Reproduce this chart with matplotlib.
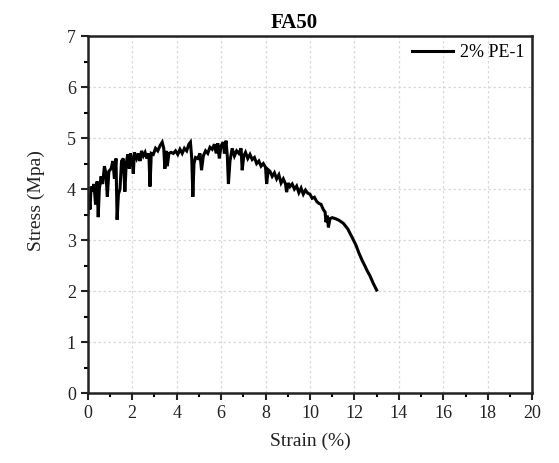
import matplotlib
matplotlib.use("Agg")
import matplotlib.pyplot as plt
from matplotlib.ticker import MultipleLocator

strain = [0.0, 0.05, 0.1, 0.15, 0.22, 0.28, 0.35, 0.42, 0.47, 0.52, 0.6, 0.67, 0.75, 0.82, 0.88, 0.95,
          1.05, 1.13, 1.2, 1.27, 1.32, 1.38, 1.45, 1.52, 1.6, 1.67, 1.73, 1.8, 1.87, 1.92, 2.0, 2.05,
          2.1, 2.2, 2.28, 2.35, 2.42, 2.5, 2.58, 2.66, 2.75, 2.8, 2.86, 2.95, 3.05, 3.15, 3.25, 3.35,
          3.42, 3.47, 3.52, 3.58, 3.65, 3.75, 3.85, 3.95, 4.05, 4.15, 4.25, 4.35, 4.45, 4.55, 4.62,
          4.68, 4.73, 4.78, 4.85, 4.95, 5.05, 5.12, 5.2, 5.3, 5.4, 5.5, 5.6, 5.7, 5.78, 5.85, 5.92,
          6.0, 6.1, 6.15, 6.22, 6.28, 6.33, 6.4, 6.5, 6.6, 6.7, 6.8, 6.9, 6.95, 7.02, 7.1, 7.2, 7.3,
          7.4, 7.5, 7.6, 7.7, 7.8, 7.9, 8.0, 8.05, 8.12, 8.2, 8.3, 8.4, 8.5, 8.6, 8.7, 8.8, 8.9,
          8.95, 9.02, 9.1, 9.2, 9.3, 9.4, 9.5, 9.6, 9.7, 9.8, 9.9, 10.0, 10.1, 10.2, 10.3, 10.4,
          10.5, 10.6, 10.68, 10.72, 10.78, 10.83, 10.9, 11.0, 11.15, 11.3, 11.5, 11.7, 11.9, 12.07,
          12.2, 12.35, 12.5, 12.55, 12.7, 12.85, 13.0]
stress = [3.5, 3.9, 3.6, 4.05, 3.95, 4.1, 3.7, 4.15, 3.45, 4.0, 4.25, 4.1, 4.45, 4.3, 3.85, 4.35,
          4.4, 4.55, 4.2, 4.6, 3.4, 3.9, 4.0, 4.55, 4.6, 3.95, 4.5, 4.68, 4.4, 4.7, 4.55, 4.3,
          4.72, 4.6, 4.7, 4.55, 4.75, 4.65, 4.72, 4.6, 4.7, 4.05, 4.7, 4.68, 4.8, 4.75, 4.85, 4.92,
          4.8, 4.4, 4.75, 4.45, 4.7, 4.72, 4.7, 4.75, 4.68, 4.78, 4.7, 4.8, 4.75, 4.88, 4.92,
          4.6, 3.85, 4.5, 4.62, 4.6, 4.7, 4.37, 4.65, 4.75, 4.7, 4.82, 4.78, 4.88, 4.7, 4.9, 4.6,
          4.85, 4.92, 4.7, 4.95, 4.65, 4.1, 4.55, 4.8, 4.65, 4.75, 4.7, 4.8, 4.37, 4.65, 4.72, 4.6, 4.68,
          4.58, 4.62, 4.5, 4.55, 4.45, 4.5, 4.43, 4.1, 4.38, 4.35, 4.25, 4.32, 4.2, 4.28, 4.12, 4.2, 4.1,
          3.94, 4.12, 4.05, 4.1, 4.0, 4.06, 3.93, 4.02, 3.9, 3.98, 3.92, 3.9, 3.82, 3.84, 3.76, 3.72,
          3.7, 3.6, 3.55, 3.35, 3.48, 3.25, 3.42, 3.44, 3.42, 3.39, 3.33, 3.22, 3.05, 2.9,
          2.75, 2.6, 2.47, 2.42, 2.3, 2.15, 2.02]

x_ticks = [0, 2, 4, 6, 8, 10, 12, 14, 16, 18, 20]
y_ticks = [0, 1, 2, 3, 4, 5, 6, 7]

plt.rcParams['font.family'] = ['Liberation Serif', 'DejaVu Serif']

fig = plt.figure(figsize=(5.59, 4.63), dpi=100)
ax = fig.add_axes([0.157, 0.151, 0.795, 0.771])

ax.plot(strain, stress, color='black', lw=2.2, label='2% PE-1', solid_joinstyle='miter')

ax.set_xlim(0, 20)
ax.set_ylim(0, 7)
ax.set_xticks(x_ticks)
ax.set_yticks(y_ticks)
ax.xaxis.set_minor_locator(MultipleLocator(1))
ax.yaxis.set_minor_locator(MultipleLocator(0.5))
ax.tick_params(which='major', direction='out', length=5, width=1.5, labelsize=13, colors='#222222',
               top=False, right=False)
ax.tick_params(which='minor', direction='out', length=3, width=1.5, top=False, right=False)
for s in ax.spines.values():
    s.set_linewidth(1.8)
    s.set_color('#222222')

ax.grid(True, which='major', color='#d9d9d9', linestyle=(0, (2, 2)), linewidth=0.9)

ax.set_xlabel('Strain (%)', fontsize=14, color='#222222', labelpad=8)
ax.set_ylabel('Stress (Mpa)', fontsize=14, color='#222222')
ax.yaxis.set_label_coords(-0.097, 0.54)
ax.set_title('FA50', fontsize=15, fontweight='bold', pad=6, x=0.465)

leg = ax.legend(loc='upper right', frameon=False, fontsize=13, handlelength=2.3,
                handletextpad=0.35, borderaxespad=0.05)

fig.savefig('out.png', dpi=100)
